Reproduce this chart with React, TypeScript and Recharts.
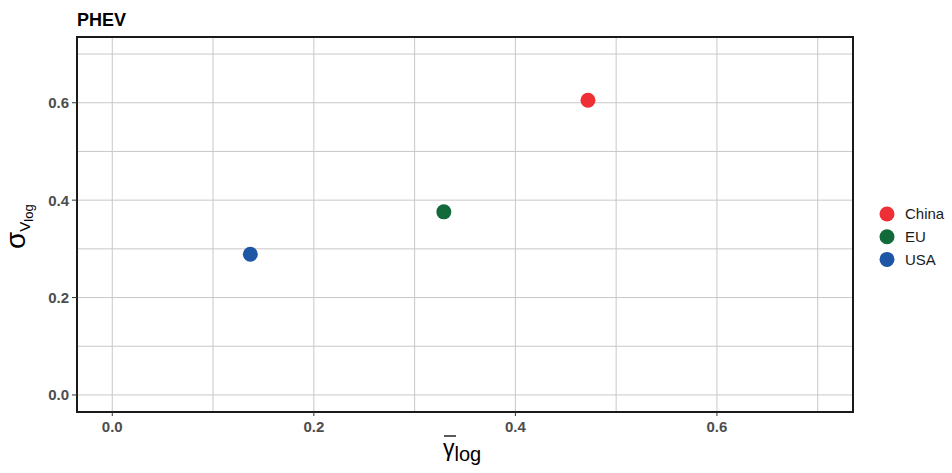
import React from 'react';
import { ScatterChart, Scatter, XAxis, YAxis, CartesianGrid, ReferenceArea } from 'recharts';

const countries = ['China', 'EU', 'USA'];
const gammaLog = [0.472, 0.329, 0.137];
const sigmaVLog = [0.605, 0.376, 0.289];
const colors = ['#EE2F35', '#12693A', '#1E56A6'];

const gridTicks = [0, 0.1, 0.2, 0.3, 0.4, 0.5, 0.6, 0.7];
const majorTicks = [0, 0.2, 0.4, 0.6];
const axisDomain = [-0.035, 0.735];

const FONT = '"Liberation Sans", Arial, sans-serif';

const isMajor = (v: number) => majorTicks.some(m => Math.abs(m - v) < 1e-6);

const XTick = (props: any) => {
  const { x, y, payload } = props;
  if (!isMajor(payload.value)) return null;
  return (
    <g>
      <line x1={x} x2={x} y1={y} y2={y + 4} stroke="#333333" strokeWidth={1} />
      <text x={x} y={y + 20} textAnchor="middle" fontFamily={FONT} fontSize={15} fontWeight="bold" fill="#4d4d4d">
        {payload.value.toFixed(1)}
      </text>
    </g>
  );
};

const YTick = (props: any) => {
  const { x, y, payload } = props;
  if (!isMajor(payload.value)) return null;
  return (
    <g>
      <line x1={x - 5} x2={x} y1={y} y2={y} stroke="#333333" strokeWidth={1} />
      <text x={x - 8} y={y} dy="0.36em" textAnchor="end" fontFamily={FONT} fontSize={15} fontWeight="bold" fill="#4d4d4d">
        {payload.value.toFixed(1)}
      </text>
    </g>
  );
};

const Dot = (props: any) => {
  const { cx, cy, fill } = props;
  return <circle cx={cx} cy={cy} r={7.5} fill={fill} />;
};

const App: React.FC = () => {
  return (
    <div style={{ position: 'absolute', left: 0, top: 0, width: 952, height: 473, background: '#fff' }}>
      <ScatterChart width={952} height={473} margin={{ top: 37, right: 99, bottom: 0, left: 0 }}>
        <CartesianGrid stroke="#c8c8c8" strokeWidth={1} />
        <XAxis
          type="number"
          dataKey="x"
          domain={axisDomain}
          ticks={gridTicks}
          interval={0}
          allowDataOverflow
          axisLine={false}
          tickLine={false}
          tickSize={0}
          tickMargin={0}
          height={61}
          tick={<XTick />}
        />
        <YAxis
          type="number"
          dataKey="y"
          domain={axisDomain}
          ticks={gridTicks}
          interval={0}
          allowDataOverflow
          axisLine={false}
          tickLine={false}
          tickSize={0}
          tickMargin={0}
          width={77}
          tick={<YTick />}
        />
        <ReferenceArea
          x1={axisDomain[0]}
          x2={axisDomain[1]}
          y1={axisDomain[0]}
          y2={axisDomain[1]}
          fill="none"
          stroke="#1a1a1a"
          strokeWidth={2}
          ifOverflow="visible"
        />
        {countries.map((name, i) => (
          <Scatter
            key={name}
            name={name}
            data={[{ x: gammaLog[i], y: sigmaVLog[i] }]}
            fill={colors[i]}
            shape={<Dot />}
            isAnimationActive={false}
          />
        ))}
      </ScatterChart>

      <svg width={952} height={473} style={{ position: 'absolute', left: 0, top: 0, pointerEvents: 'none' }}>
        <text x={77} y={26} fontFamily={FONT} fontSize={18} fontWeight="bold" fill="#000">PHEV</text>

        {/* y axis title: sigma with V_log subscript */}
        <text transform="translate(25,249) rotate(-90)" fontFamily={FONT} fill="#000">
          <tspan fontSize={28}>σ</tspan>
          <tspan fontSize={15} dy={5}>V</tspan>
          <tspan fontSize={13} dy={3}>log</tspan>
        </text>

        {/* x axis title: gamma bar with log subscript */}
        <line x1={444} x2={456} y1={436} y2={436} stroke="#000" strokeWidth={1.3} />
        <text x={443} y={456} fontFamily={FONT} fill="#000">
          <tspan fontSize={23}>γ</tspan>
          <tspan fontSize={20} dy={5}>log</tspan>
        </text>

        {countries.map((name, i) => (
          <g key={name}>
            <circle cx={887} cy={214 + i * 22.7} r={7.5} fill={colors[i]} />
            <text x={905} y={214 + i * 22.7} dy="0.36em" fontFamily={FONT} fontSize={15} fill="#1a1a1a">
              {name}
            </text>
          </g>
        ))}
      </svg>
    </div>
  );
};

export default App;
